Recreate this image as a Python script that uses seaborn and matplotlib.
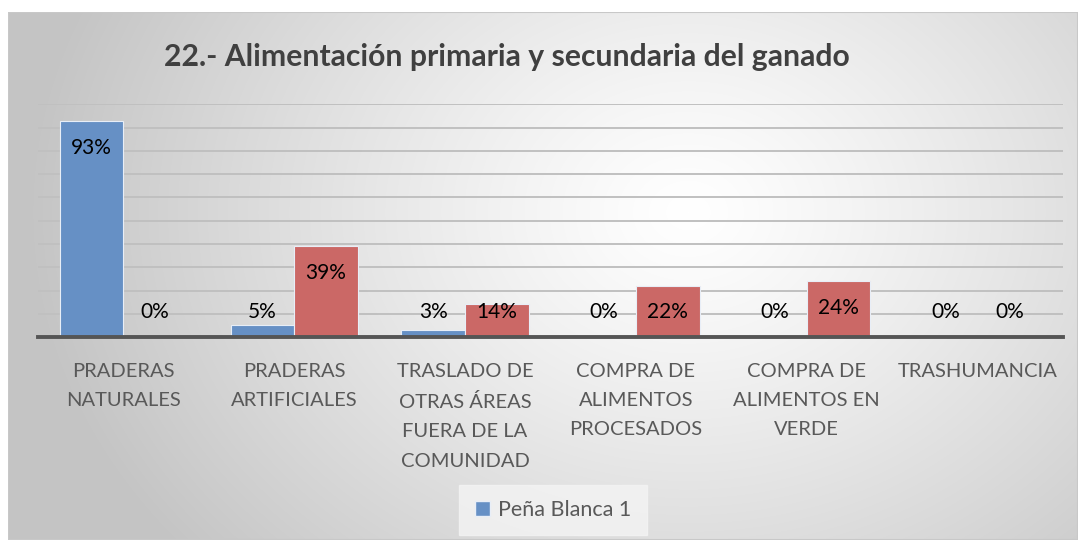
import numpy as np
import pandas as pd
import matplotlib
matplotlib.use("Agg")
import matplotlib.pyplot as plt
from matplotlib.patches import Patch, Rectangle
import seaborn as sns

categories = ["PRADERAS\nNATURALES", "PRADERAS\nARTIFICIALES",
              "TRASLADO DE\nOTRAS ÁREAS\nFUERA DE LA\nCOMUNIDAD",
              "COMPRA DE\nALIMENTOS\nPROCESADOS",
              "COMPRA DE\nALIMENTOS EN\nVERDE", "TRASHUMANCIA"]
series_names = ["Peña Blanca 1", "Peña Blanca 2"]
blue_values = [93, 5, 3, 0, 0, 0]
red_values = [0, 39, 14, 22, 24, 0]
title = "22.- Alimentación primaria y secundaria del ganado"

sns.set_theme(style="white")
plt.rcParams['font.family'] = ['Lato', 'DejaVu Sans']

W, H = 1078, 540
fig = plt.figure(figsize=(W / 100, H / 100), dpi=100)
fig.patch.set_facecolor("white")

# background gradient panel
bg = fig.add_axes([8 / W, 0, 1 - 8 / W, 1 - 12 / H])
bg.set_axis_off()
yy, xx = np.mgrid[0:528, 0:1070]
cx, cy = 680, 200
d = np.sqrt(((xx - cx) / 1.0) ** 2 + ((yy - cy) / 0.8) ** 2)
d = d / d.max()
val = 1.0 - 0.23 * np.clip(d * 1.2, 0, 1) ** 1.2
img = np.dstack([val, val, val])
bg.imshow(img, aspect="auto", extent=[0, 1, 0, 1], origin="upper")
bg.set_xlim(0, 1)
bg.set_ylim(0, 1)
bg.add_patch(Rectangle((0, 0), 1, 1, fill=False, edgecolor="#c8c8c8", lw=1.5,
                       transform=bg.transAxes))

df = pd.DataFrame({
    "cat": categories * 2,
    "serie": [series_names[0]] * len(categories) + [series_names[1]] * len(categories),
    "val": blue_values + red_values,
})

ax = fig.add_axes([38 / W, (H - 337) / H, 1025 / W, 232.5 / H])
ax.patch.set_alpha(0)
blue = "#6690C5"
red = "#CB6866"
sns.barplot(data=df, x="cat", y="val", hue="serie", palette=[blue, red],
            width=0.745, ax=ax, legend=False, edgecolor="#e8eef7", linewidth=0.8,
            saturation=1)
ax.set_ylim(0, 100)
ax.set_xlim(-0.5, len(categories) - 0.5)
ax.set_yticks(np.arange(10, 101, 10))
ax.yaxis.grid(True, color="#c0c0c0", lw=1.4)
ax.set_axisbelow(True)
ax.set_yticklabels([])
ax.tick_params(axis="y", length=0)
ax.tick_params(axis="x", length=0, pad=18.5)
ax.set_xlabel("")
ax.set_ylabel("")
for s in ["top", "right", "left"]:
    ax.spines[s].set_visible(False)
ax.spines["bottom"].set_color("#555555")
ax.spines["bottom"].set_linewidth(2.8)
ax.set_xticks(range(len(categories)))
ax.set_xticklabels(categories, fontsize=14.5, color="#595959", linespacing=1.88,
                   va="top")

for cont in ax.containers:
    for bar in cont:
        v = bar.get_height()
        x = bar.get_x() + bar.get_width() / 2
        y = max(v - 11.6, 10.7)
        ax.text(x, y, f"{v:.0f}%", ha="center", va="center", fontsize=15,
                color="#000000")

fig.text(507 / W, 1 - 57 / H, title, ha="center", va="center", fontsize=21.7,
         fontweight="bold", color="#404040")

leg = fig.legend(handles=[Patch(facecolor=blue, edgecolor="#e8eef7")],
                 labels=[series_names[0]], loc="center", bbox_to_anchor=(553 / W, 1 - 510 / H),
                 frameon=True, fontsize=15.5, handlelength=0.7, handleheight=0.7,
                 handletextpad=0.4, borderpad=0.7, fancybox=False)
leg.get_frame().set_facecolor("#f4f4f4")
leg.get_frame().set_edgecolor("#f4f4f4")
for t in leg.get_texts():
    t.set_color("#595959")

fig.savefig("out.png", dpi=100)
